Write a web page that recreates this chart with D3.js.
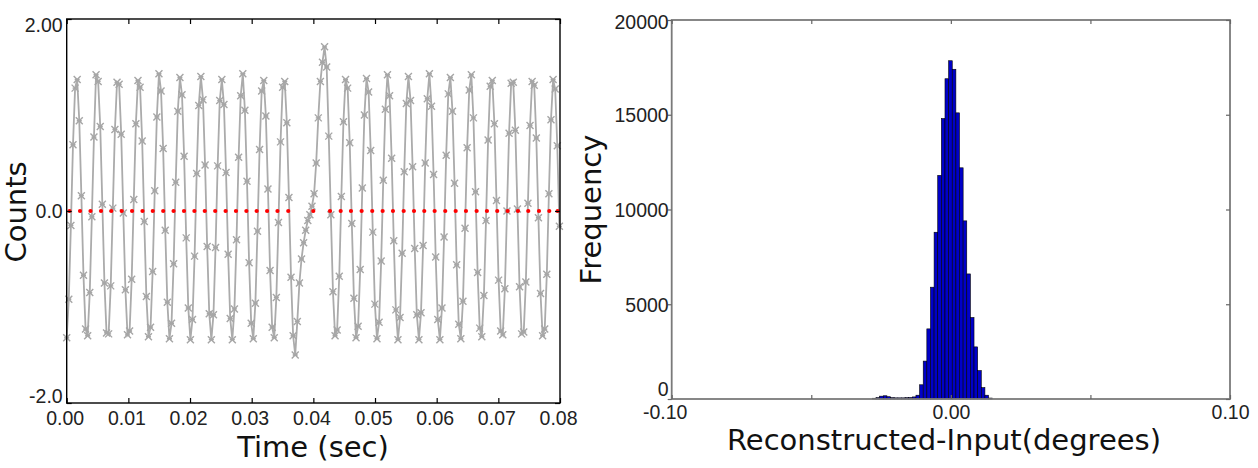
<!DOCTYPE html>
<html><head><meta charset="utf-8">
<script src="https://cdn.jsdelivr.net/npm/d3@7"></script>
<style>body{margin:0;background:#fff} svg{display:block}</style>
</head><body><svg id="c" width="1258" height="468"></svg>
<script>
// ---------- Left panel data ----------
const sampleInterval = 0.00034; // seconds between samples
const counts = [
 -1.32,-0.92,-0.15,0.69,1.28,1.37,0.94,0.16,-0.67,-1.23,
 -1.30,-0.85,-0.06,0.77,1.42,1.35,0.88,0.07,-0.75,-1.27,
 -1.28,-0.78,0.03,0.85,1.34,1.32,0.80,-0.02,-0.82,-1.29,
 -1.25,-0.71,0.12,0.91,1.36,1.29,0.73,-0.11,-0.89,-1.31,
 -1.21,-0.63,0.21,0.98,1.43,1.25,0.65,-0.20,-0.95,-1.33,
 -1.17,-0.55,0.30,1.04,1.39,1.21,0.57,-0.28,-1.01,-1.34,
 -1.13,-0.47,0.39,1.10,1.40,1.16,0.48,-0.37,-1.07,-1.34,
 -1.08,-0.38,0.47,1.15,1.37,1.11,0.40,-0.45,-1.12,-1.34,
 -1.02,-0.30,0.56,1.20,1.43,1.05,0.31,-0.54,-1.17,-1.33,
 -0.96,-0.21,0.64,1.25,1.36,0.99,0.23,-0.62,-1.21,-1.32,
 -0.90,-0.12,0.72,1.29,1.35,0.92,0.14,-0.69,-1.30,-1.50,
 -1.15,-0.75,-0.50,-0.33,-0.20,-0.10,-0.04,0.05,0.18,0.50,
 0.97,1.35,1.55,1.71,1.50,0.78,-0.04,-0.84,-1.30,-1.24,
 -0.68,0.15,0.93,1.37,1.28,0.71,-0.13,-0.91,-1.32,-1.20,
 -0.61,0.24,1.00,1.38,1.24,0.63,-0.22,-0.97,-1.33,-1.16,
 -0.52,0.32,1.06,1.42,1.20,0.55,-0.31,-1.03,-1.34,-1.11,
 -0.44,0.41,1.12,1.40,1.15,0.46,-0.39,-1.08,-1.34,-1.06,
 -0.36,0.50,1.17,1.43,1.09,0.38,-0.48,-1.13,-1.34,-1.01,
 -0.27,0.58,1.22,1.39,1.04,0.29,-0.56,-1.18,-1.33,-0.94,
 -0.18,0.66,1.26,1.42,0.97,0.20,-0.64,-1.22,-1.31,-0.88,
 -0.10,0.74,1.30,1.36,0.91,0.11,-0.72,-1.25,-1.29,-0.81,
 0.00,0.81,1.33,1.34,0.84,0.02,-0.79,-1.28,-1.26,-0.74,
 0.08,0.89,1.35,1.31,0.76,-0.07,-0.86,-1.30,-1.23,-0.66,
 0.18,0.95,1.37,1.27,0.68,-0.16
];
const crossingTimes = [
 0.00045,0.00216,0.00386,0.00556,0.00723,0.00892,0.01060,0.01229,0.01396,0.01565,
 0.01733,0.01902,0.02071,0.02239,0.02408,0.02577,0.02745,0.02914,0.03081,0.03250,
 0.03418,0.03593,0.03999,0.04270,0.04443,0.04610,0.04783,0.04955,0.05124,0.05291,
 0.05465,0.05632,0.05799,0.05967,0.06139,0.06308,0.06475,0.06648,0.06815,0.06982,
 0.07151,0.07318,0.07485,0.07659,0.07826,0.07962
];
const timeTicks = [0,0.01,0.02,0.03,0.04,0.05,0.06,0.07,0.08];
const timeTickLabels = ["0.00","0.01","0.02","0.03","0.04","0.05","0.06","0.07","0.08"];
const countTicks = [-2,0,2];
const countTickLabels = ["-2.0","0.0","2.00"];

// ---------- Right panel data ----------
const binWidth = 0.0013;
const binEdges = [
 -0.0281,-0.0268,-0.0255,-0.0242,-0.0229,-0.0216,-0.0203,-0.0190,-0.0177,-0.0164,-0.0151,-0.0138,
 -0.0125,-0.0112,-0.0099,-0.0086,-0.0073,-0.0060,-0.0047,-0.0034,-0.0021,-0.0008,
 0.0005,0.0018,0.0031,0.0044,0.0057,0.0070,0.0083,0.0096,0.0109,0.0122,0.0135
];
const binCounts = [
 40,70,150,170,120,70,60,60,60,70,80,110,
 200,750,2000,3700,5900,8800,11800,14800,16900,17850,
 17400,15100,12200,9400,6600,4300,2750,1500,600,200,50
];
const degreeTicks = [-0.1,-0.05,0,0.05,0.1];
const degreeTickLabels = ["-0.10","","0.00","","0.10"];
const freqTicks = [0,5000,10000,15000,20000];
const freqTickLabels = ["0","5000","10000","15000","20000"];

// ---------- Drawing ----------
const svg = d3.select("#c");
svg.append("rect").attr("width",1258).attr("height",468).attr("fill","#fff");
const tickFont = "'Liberation Sans', Arial, sans-serif";
const labelFont = "'DejaVu Sans', sans-serif";

// Left panel
const L = {x0:66.7, x1:560, y0:19, y1:403};
const xL = d3.scaleLinear().domain([0,0.08]).range([L.x0,L.x1]);
const yL = d3.scaleLinear().domain([-2,2]).range([L.y1,L.y0]);
const gL = svg.append("g");

const pts = counts.map((v,i)=>({t:i*sampleInterval, v}));
gL.append("path").datum(pts)
  .attr("d", d3.line().x(d=>xL(d.t)).y(d=>yL(d.v)))
  .attr("fill","none").attr("stroke","#ababab").attr("stroke-width",1.8);
gL.selectAll("path.mk").data(pts).join("path").attr("class","mk")
  .attr("transform",d=>`translate(${xL(d.t)},${yL(d.v)})`)
  .attr("d","M-3.5,-3.5L3.5,3.5M-3.5,3.5L3.5,-3.5M-2.5,0L2.5,0")
  .attr("stroke","#a6a6a6").attr("stroke-width",1.4).attr("fill","none");
gL.selectAll("circle.zc").data(crossingTimes).join("circle").attr("class","zc")
  .attr("cx",d=>xL(d)).attr("cy",yL(0)).attr("r",2.1).attr("fill","#ff0000");

// frame + ticks
gL.append("rect").attr("x",L.x0).attr("y",L.y0).attr("width",L.x1-L.x0).attr("height",L.y1-L.y0)
  .attr("fill","none").attr("stroke","#000").attr("stroke-width",1.4);
const axBL = gL.append("g").attr("transform",`translate(0,${L.y1})`)
  .call(d3.axisBottom(xL).tickValues(timeTicks).tickSize(-5).tickFormat((d,i)=>timeTickLabels[i]));
const axTL = gL.append("g").attr("transform",`translate(0,${L.y0})`)
  .call(d3.axisTop(xL).tickValues(timeTicks).tickSize(-5).tickFormat(""));
const axLL = gL.append("g").attr("transform",`translate(${L.x0},0)`)
  .call(d3.axisLeft(yL).tickValues(countTicks).tickSize(-5).tickFormat((d,i)=>countTickLabels[i]));
const axRL = gL.append("g").attr("transform",`translate(${L.x1},0)`)
  .call(d3.axisRight(yL).tickValues(countTicks).tickSize(-5).tickFormat(""));
[axBL,axTL,axLL,axRL].forEach(a=>{
  a.select(".domain").remove();
  a.selectAll(".tick line").attr("stroke","#000").attr("stroke-width",1.2);
  a.selectAll("text").attr("font-family",tickFont).attr("font-size",19.5).attr("fill","#222");
});
axBL.selectAll("text").attr("y",8).attr("dy","0.72em").attr("dx",-2);
axLL.selectAll("text").attr("x",-4).attr("dy",(d)=> d===2 ? "0.62em" : (d===-2 ? "-0.03em" : "0.35em"));
gL.append("text").attr("x",313).attr("y",457).attr("text-anchor","middle")
  .attr("font-family",labelFont).attr("font-size",29).attr("fill","#111").text("Time (sec)");
gL.append("text").attr("transform","translate(26,212) rotate(-90)").attr("text-anchor","middle")
  .attr("font-family",labelFont).attr("font-size",29).attr("fill","#111").text("Counts");

// Right panel
const R = {x0:671.7, x1:1230, y0:20, y1:399};
const xR = d3.scaleLinear().domain([-0.1,0.1]).range([R.x0,R.x1]);
const yR = d3.scaleLinear().domain([0,20000]).range([R.y1,R.y0]);
const gR = svg.append("g");
gR.selectAll("rect.bar").data(binEdges.map((e,i)=>({e,c:binCounts[i]}))).join("rect").attr("class","bar")
  .attr("x",d=>xR(d.e)).attr("width",d=>xR(d.e+binWidth)-xR(d.e))
  .attr("y",d=>yR(d.c)).attr("height",d=>yR(0)-yR(d.c))
  .attr("fill","#0000c8").attr("stroke","#000").attr("stroke-width",0.6);
gR.append("rect").attr("x",R.x0).attr("y",R.y0).attr("width",R.x1-R.x0).attr("height",R.y1-R.y0)
  .attr("fill","none").attr("stroke","#7a7a7a").attr("stroke-width",1.8);
const axBR = gR.append("g").attr("transform",`translate(0,${R.y1})`)
  .call(d3.axisBottom(xR).tickValues(degreeTicks).tickSize(-4).tickFormat((d,i)=>degreeTickLabels[i]));
const axTR = gR.append("g").attr("transform",`translate(0,${R.y0})`)
  .call(d3.axisTop(xR).tickValues(degreeTicks).tickSize(-4).tickFormat(""));
const axLR = gR.append("g").attr("transform",`translate(${R.x0},0)`)
  .call(d3.axisLeft(yR).tickValues(freqTicks).tickSize(4).tickFormat((d,i)=>freqTickLabels[i]));
const axRR = gR.append("g").attr("transform",`translate(${R.x1},0)`)
  .call(d3.axisRight(yR).tickValues(freqTicks).tickSize(-4).tickFormat(""));
[axBR,axTR,axLR,axRR].forEach(a=>{
  a.select(".domain").remove();
  a.selectAll(".tick line").attr("stroke","#666").attr("stroke-width",1.2);
  a.selectAll("text").attr("font-family",tickFont).attr("font-size",19.5).attr("fill","#222");
});
axBR.selectAll("text").attr("y",6).attr("dy","0.7em").attr("dx",(d)=> d===-0.1 ? -7 : 0);
axLR.selectAll("text").attr("x",-3).attr("dy",(d)=> d===20000 ? "0.42em" : (d===0 ? "-0.17em" : "0.35em"));
gR.append("text").attr("x",944).attr("y",449.5).attr("text-anchor","middle")
  .attr("font-family",labelFont).attr("font-size",29).attr("fill","#111").text("Reconstructed-Input(degrees)");
gR.append("text").attr("transform","translate(601,209.5) rotate(-90)").attr("text-anchor","middle")
  .attr("font-family",labelFont).attr("font-size",29).attr("fill","#111").text("Frequency");
</script>
</body></html>
